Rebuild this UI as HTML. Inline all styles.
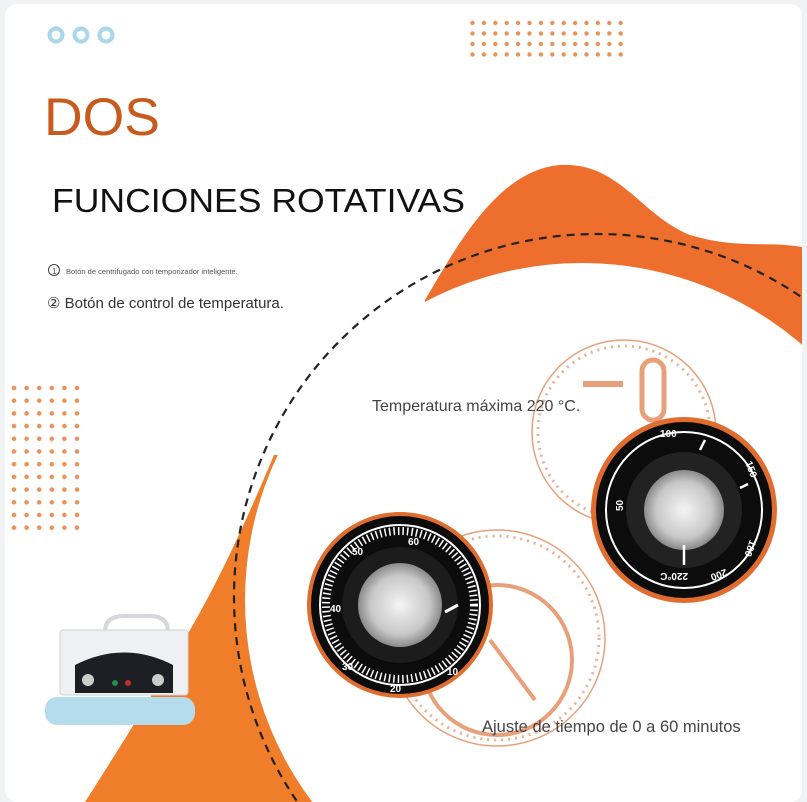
<!DOCTYPE html>
<html><head><meta charset="utf-8"><style>
html,body{margin:0;padding:0;background:#f1f2f3;overflow:hidden;width:807px;height:802px;}
svg{display:block;}
text{font-family:"Liberation Sans",sans-serif;}
</style></head><body>
<svg width="807" height="802" viewBox="0 0 807 802" xmlns="http://www.w3.org/2000/svg">
<defs>
<pattern id="dots" x="469" y="19" width="11.4" height="10.5" patternUnits="userSpaceOnUse"><circle cx="3.5" cy="4" r="2.2" fill="#e8925a"/></pattern>
<pattern id="dots2" x="9" y="383" width="12.6" height="12.7" patternUnits="userSpaceOnUse"><circle cx="5" cy="5" r="2.3" fill="#e8925a"/></pattern>
<radialGradient id="metal" cx="50%" cy="50%" r="50%"><stop offset="0" stop-color="#f4f4f4"/><stop offset="0.7" stop-color="#c8c8c8"/><stop offset="1" stop-color="#8a8a8a"/></radialGradient>
<clipPath id="card"><rect x="5" y="4" width="797" height="798" rx="12"/></clipPath>
</defs>
<rect x="5" y="4" width="797" height="798" rx="12" fill="#fff"/>
<g clip-path="url(#card)">
<path d="M425,300 C460,240 500,170 560,165 C620,162 640,215 690,235 C740,250 770,240 807,248 L807,420 L420,420 Z" fill="#ee6f2d"/>
<path d="M274,455 C255,500 225,570 190,630 C150,700 115,755 85,802 L420,802 L420,455 Z" fill="#ef7d2a"/>
<circle cx="582" cy="600" r="337" fill="#fff"/>
<circle cx="597" cy="597" r="363" fill="none" stroke="#222" stroke-width="2.2" stroke-dasharray="8 6"/>
<rect x="469" y="19" width="158" height="42" fill="url(#dots)"/>
<rect x="9" y="383" width="75" height="152" fill="url(#dots2)"/>
</g>
<g fill="none" stroke="#a9d6ea" stroke-width="4"><circle cx="56" cy="35" r="6.5"/><circle cx="81" cy="35" r="6.5"/><circle cx="106" cy="35" r="6.5"/></g>
<g fill="none" stroke="#e8a07a">
<circle cx="624" cy="432" r="92" stroke-width="1.5"/>
<circle cx="624" cy="432" r="86" stroke-width="3" stroke-dasharray="2 5" stroke="#e7b296"/>
<circle cx="497" cy="638" r="108" stroke-width="1.5"/>
<circle cx="497" cy="638" r="102" stroke-width="3" stroke-dasharray="2 5" stroke="#e7b296"/>
<circle cx="497" cy="660" r="75" stroke-width="4"/>
<line x1="490" y1="640" x2="535" y2="700" stroke-width="4"/>
<rect x="642" y="360" width="22" height="60" rx="11" stroke-width="5"/>
<line x1="583" y1="384" x2="623" y2="384" stroke-width="6"/>
</g>
<circle cx="684" cy="510" r="93" fill="#e06d2f"/>
<circle cx="684" cy="510" r="88" fill="#0c0c0c"/>
<circle cx="684" cy="510" r="78" fill="none" stroke="#fff" stroke-width="2"/>
<circle cx="684" cy="510" r="58" fill="#222"/>
<circle cx="684" cy="510" r="40" fill="url(#metal)"/>
<g fill="#fff" font-size="10" font-weight="bold"><text x="660" y="437">100</text><text x="612" y="510" transform="rotate(-90 618 505)">50</text><text x="740" y="470" transform="rotate(70 748 470)">150</text><text x="742" y="545" transform="rotate(110 748 545)">180</text><text x="713" y="577" transform="rotate(160 720 574)">200</text><text x="662" y="583" transform="rotate(180 675 578)">220°C</text></g>
<g stroke="#fff" stroke-width="2.5"><line x1="684" y1="545" x2="684" y2="565"/><line x1="748" y1="484" x2="740" y2="488"/><line x1="700" y1="450" x2="705" y2="440"/></g>
<circle cx="400" cy="605" r="93" fill="#e06d2f"/>
<circle cx="400" cy="605" r="89" fill="#0c0c0c"/>
<circle cx="400" cy="605" r="80" fill="none" stroke="#fff" stroke-width="2"/>
<circle cx="400" cy="605" r="74" fill="none" stroke="#fff" stroke-width="8" stroke-dasharray="1.5 3"/>
<circle cx="400" cy="605" r="58" fill="#1c1c1c"/>
<circle cx="400" cy="605" r="42" fill="url(#metal)"/>
<g fill="#fff" font-size="10" font-weight="bold"><text x="408" y="545">60</text><text x="352" y="555">50</text><text x="330" y="612">40</text><text x="342" y="670">30</text><text x="390" y="692">20</text><text x="447" y="675">10</text></g>
<line x1="445" y1="612" x2="458" y2="605" stroke="#fff" stroke-width="3"/>
<path d="M105,632 Q105,616 124,616 L150,616 Q168,616 168,632" fill="none" stroke="#d5d7da" stroke-width="4"/>
<rect x="60" y="630" width="128" height="65" rx="3" fill="#eef0f3" stroke="#d0d3d7"/>
<path d="M75,693 L75,665 Q124,640 173,665 L173,693 Z" fill="#1d1f24"/>
<circle cx="88" cy="680" r="6" fill="#ccc"/><circle cx="158" cy="680" r="6" fill="#ccc"/>
<circle cx="115" cy="683" r="3" fill="#2a8a4a"/><circle cx="128" cy="683" r="3" fill="#c0302a"/>
<rect x="45" y="697" width="150" height="28" rx="12" fill="#b5dced"/>
<text x="44" y="135" font-size="53" fill="#c85a1e" textLength="116" lengthAdjust="spacingAndGlyphs">DOS</text>
<text x="52" y="212" font-size="33" fill="#111" textLength="413" lengthAdjust="spacingAndGlyphs">FUNCIONES ROTATIVAS</text>
<circle cx="54" cy="270" r="5.5" fill="none" stroke="#444" stroke-width="1"/><text x="52" y="274" font-size="8" fill="#444">1</text>
<text x="66" y="274" font-size="7.5" fill="#555">Botón de centrifugado con temporizador inteligente.</text>
<text x="47" y="308" font-size="15" fill="#333">② Botón de control de temperatura.</text>
<text x="372" y="411" font-size="16" fill="#444">Temperatura máxima 220 °C.</text>
<text x="482" y="732" font-size="16.5" fill="#444">Ajuste de tiempo de 0 a 60 minutos</text>
</svg>
</body></html>
